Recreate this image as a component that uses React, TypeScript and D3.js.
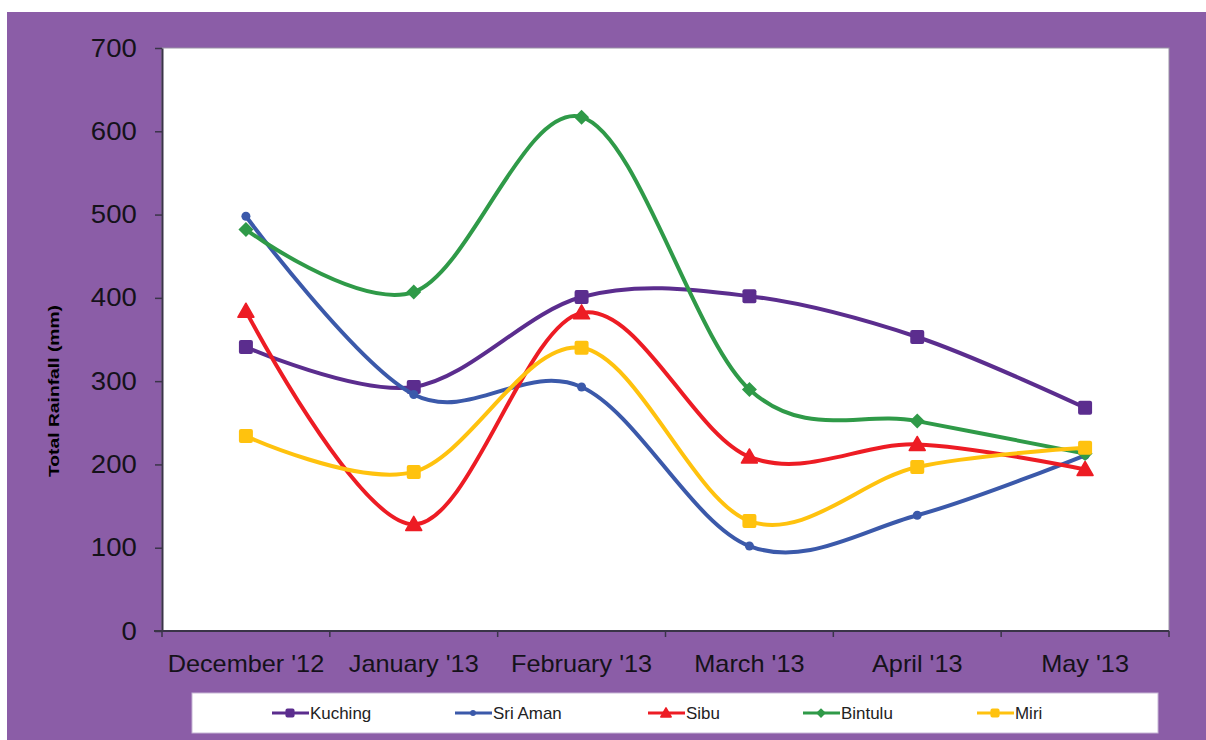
import React, { useEffect, useRef } from "react";
import * as d3 from "d3";

const months = ["December '12", "January '13", "February '13", "March '13", "April '13", "May '13"];
const kuching = [341, 293, 401, 402, 353, 268];
const sriAman = [498, 284, 293, 102, 139, 211];
const sibu = [384, 128, 382, 209, 224, 194];
const bintulu = [482, 407, 617, 290, 252, 213];
const miri = [234, 191, 340, 132, 197, 220];
const yTicks = [0, 100, 200, 300, 400, 500, 600, 700];

const seriesList = [
  { name: "Kuching", values: kuching, color: "#5b2d8e", marker: "square" },
  { name: "Sri Aman", values: sriAman, color: "#3b59aa", marker: "circle" },
  { name: "Sibu", values: sibu, color: "#ed1c24", marker: "triangle" },
  { name: "Bintulu", values: bintulu, color: "#2f9a48", marker: "diamond" },
  { name: "Miri", values: miri, color: "#ffc20e", marker: "square" },
];

const W = 1206;
const H = 740;
const plot = { left: 162, right: 1169, top: 48, bottom: 631 };
const bg = "#8b5da7";
const axisColor = "#3a3448";
const font = "Liberation Sans, Arial, sans-serif";

const drawMarker = (
  g: d3.Selection<SVGGElement, unknown, null, undefined>,
  kind: string,
  x: number,
  y: number,
  color: string,
  scale = 1
) => {
  if (kind === "square") {
    const s = 14 * scale;
    g.append("rect")
      .attr("x", x - s / 2)
      .attr("y", y - s / 2)
      .attr("width", s)
      .attr("height", s)
      .attr("rx", 2)
      .attr("fill", color);
  } else if (kind === "circle") {
    g.append("circle").attr("cx", x).attr("cy", y).attr("r", 4.5 * scale).attr("fill", color);
  } else if (kind === "triangle") {
    const s = 8 * scale;
    g.append("path")
      .attr("d", `M${x},${y - s}L${x + s},${y + s * 0.75}L${x - s},${y + s * 0.75}Z`)
      .attr("fill", color)
      .attr("stroke", color)
      .attr("stroke-linejoin", "round")
      .attr("stroke-width", 1.5);
  } else {
    const s = 7.5 * scale;
    g.append("path")
      .attr("d", `M${x},${y - s}L${x + s},${y}L${x},${y + s}L${x - s},${y}Z`)
      .attr("fill", color);
  }
};

const App = () => {
  const ref = useRef<SVGSVGElement>(null);

  useEffect(() => {
    const svg = d3.select(ref.current);
    svg.selectAll("*").remove();

    svg.append("rect").attr("x", 7).attr("y", 12).attr("width", W - 7).attr("height", H - 12).attr("fill", bg);
    svg.append("rect")
      .attr("x", plot.left)
      .attr("y", plot.top)
      .attr("width", plot.right - plot.left)
      .attr("height", plot.bottom - plot.top)
      .attr("fill", "#fff")
      .attr("stroke", "#9a92a6")
      .attr("stroke-width", 1);

    const x = d3.scaleBand().domain(months).range([plot.left, plot.right]);
    const y = d3.scaleLinear().domain([0, 700]).range([plot.bottom, plot.top]);

    // y axis
    const yAxis = svg.append("g").attr("transform", `translate(${plot.left},0)`)
      .call(d3.axisLeft(y).tickValues(yTicks).tickSize(7).tickSizeOuter(0));
    yAxis.select(".domain").attr("stroke", axisColor).attr("stroke-width", 2);
    yAxis.selectAll(".tick line").attr("stroke", axisColor).attr("stroke-width", 1.5);
    yAxis.selectAll(".tick text")
      .attr("x", -23)
      .attr("transform", "scale(1.1,1)")
      .attr("fill", "#15121a")
      .style("font-family", font)
      .style("font-size", "25px");

    // x axis with ticks at category boundaries
    const xg = svg.append("g");
    xg.append("line")
      .attr("x1", plot.left - 8)
      .attr("x2", plot.right)
      .attr("y1", plot.bottom)
      .attr("y2", plot.bottom)
      .attr("stroke", axisColor)
      .attr("stroke-width", 2);
    const bounds = months.map((m) => x(m) as number).concat([plot.right]);
    bounds.forEach((b) => {
      xg.append("line")
        .attr("x1", b)
        .attr("x2", b)
        .attr("y1", plot.bottom)
        .attr("y2", plot.bottom + 6)
        .attr("stroke", axisColor)
        .attr("stroke-width", 1.5);
    });
    months.forEach((m) => {
      xg.append("text")
        .attr("transform", `translate(${(x(m) as number) + x.bandwidth() / 2},${plot.bottom + 41}) scale(1.1,1)`)
        .attr("text-anchor", "middle")
        .attr("fill", "#15121a")
        .style("font-family", font)
        .style("font-size", "23px")
        .text(m);
    });

    svg.append("text")
      .attr("transform", `translate(59,391) rotate(-90)`)
      .attr("text-anchor", "middle")
      .attr("fill", "#000")
      .attr("textLength", 172)
      .attr("lengthAdjust", "spacingAndGlyphs")
      .style("font-family", font)
      .style("font-size", "15px")
      .style("font-weight", "bold")
      .text("Total Rainfall (mm)");

    const line = d3
      .line<number>()
      .x((_, i) => (x(months[i]) as number) + x.bandwidth() / 2)
      .y((d) => y(d))
      .curve(d3.curveCardinal.tension(0));

    const lines = svg.append("g");
    seriesList.forEach((s) => {
      lines.append("path")
        .attr("d", line(s.values))
        .attr("fill", "none")
        .attr("stroke", s.color)
        .attr("stroke-width", 4)
        .attr("stroke-linecap", "round");
      const mg = lines.append("g");
      s.values.forEach((v, i) => {
        drawMarker(mg, s.marker, (x(months[i]) as number) + x.bandwidth() / 2, y(v), s.color);
      });
    });

    // legend
    const lg = svg.append("g");
    lg.append("rect")
      .attr("x", 192)
      .attr("y", 693)
      .attr("width", 966)
      .attr("height", 40)
      .attr("fill", "#fff")
      .attr("stroke", "#c7b6d6");
    const legendX = [272, 455, 648, 803, 977];
    seriesList.forEach((s, i) => {
      const lx = legendX[i];
      lg.append("line")
        .attr("x1", lx)
        .attr("x2", lx + 37)
        .attr("y1", 713)
        .attr("y2", 713)
        .attr("stroke", s.color)
        .attr("stroke-width", 3);
      drawMarker(lg, s.marker, lx + 18, 713, s.color, 0.65);
      lg.append("text")
        .attr("transform", `translate(${lx + 38},719) scale(1.06,1)`)
        .attr("fill", "#222")
        .style("font-family", font)
        .style("font-size", "16px")
        .text(s.name);
    });
  }, []);

  return (
    <svg
      ref={ref}
      width={W}
      height={H}
      style={{ position: "absolute", left: 0, top: 0, display: "block" }}
    ></svg>
  );
};

export default App;
